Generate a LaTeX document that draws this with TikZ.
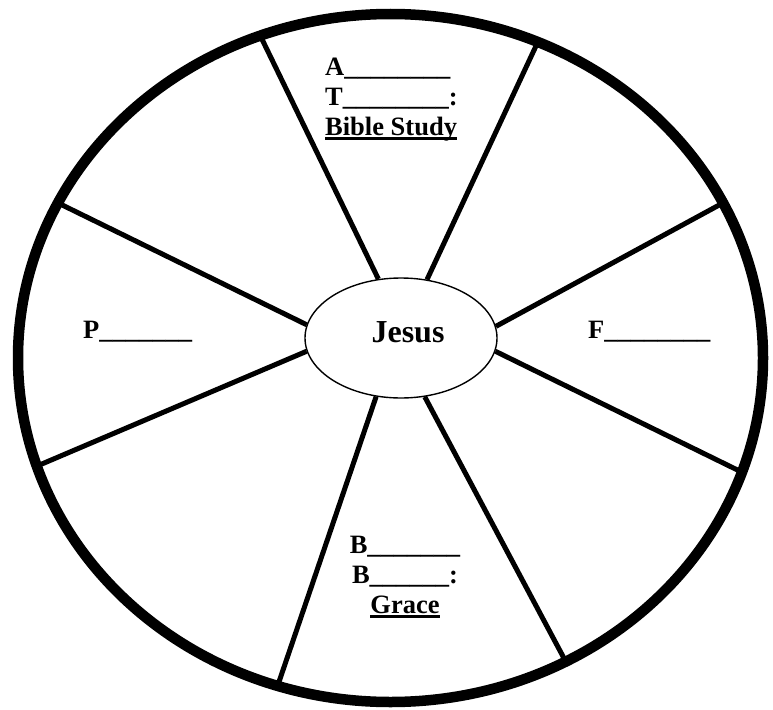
\documentclass[tikz,border=0pt]{standalone}
\usepackage{fontspec}
\setmainfont{Liberation Serif}
\usepackage{tikz}
\usetikzlibrary{shapes.geometric}
\newcommand{\keyword}[1]{\sbox{0}{#1}\rlap{\rule[-4.5pt]{\wd0}{2.6pt}}\usebox{0}}

\begin{document}
\begin{tikzpicture}[x=1pt, y=-1pt, every node/.style={font=\fontsize{26.5}{30}\selectfont\bfseries, inner sep=0pt}, spoke/.style={line width=5pt}]
\useasboundingbox (0,0) rectangle (773,709);
\node[draw, ellipse, line width=10.5pt, outer sep=0pt, minimum width=745pt, minimum height=688pt] (wheel) at (390.5,358) {};
\node[draw, ellipse, line width=1.4pt, minimum width=192pt, minimum height=120pt, font=\fontsize{32}{38}\selectfont\bfseries, text depth=12pt] (jesus) at (401,338) {\hspace*{14pt}Jesus};
\foreach \a/\b in {111.5/112.8, 66.9/65.5, 172.3/155.1, 188.3/197.5, 7.7/25.2, 352.3/342.1, 247.2/251.6, 292.8/300.6}
  \draw[spoke] (jesus.\a) -- (wheel.\b);
% multi-line nodes sit on their last baseline
\node[anchor=base west, align=left] (study) at (325,135) {A\_\_\_\_\_\_\_\_\\T\_\_\_\_\_\_\_\_:\\\keyword{Bible Study}};
\node[anchor=base west] (prayer) at (83,338) {P\_\_\_\_\_\_\_};
\node[anchor=base west] (fellowship) at (588,338) {F\_\_\_\_\_\_\_\_};
\node[anchor=base, align=center] (grace) at (405,613) {B\_\_\_\_\_\_\_\\B\_\_\_\_\_\_:\\\keyword{Grace}};
\end{tikzpicture}
\end{document}
